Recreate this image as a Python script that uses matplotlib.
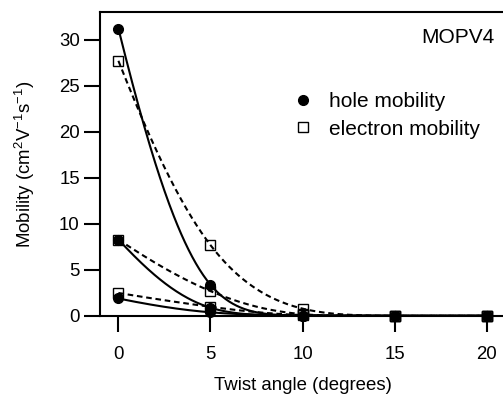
import numpy as np
import matplotlib
matplotlib.use('Agg')
import matplotlib.pyplot as plt
from matplotlib.lines import Line2D

plt.rcParams['font.family'] = ['Liberation Sans', 'DejaVu Sans']
plt.rcParams['mathtext.fontset'] = 'custom'
plt.rcParams['mathtext.rm'] = 'Liberation Sans'
plt.rcParams['mathtext.default'] = 'regular'

angle = [0, 5, 10, 15, 20]
hole_a = [31.2, 3.4, 0.05, 0.02, 0.02]
hole_b = [8.3, 0.9, 0.05, 0.02, 0.02]
hole_c = [1.9, 0.4, 0.05, 0.02, 0.02]
elec_a = [27.7, 7.7, 0.8, 0.02, 0.02]
elec_b = [8.3, 2.7, 0.2, 0.02, 0.02]
elec_c = [2.5, 1.0, 0.1, 0.02, 0.02]


def smooth_curve(xk, yk, xs, q=0.75):
    # natural cubic spline through the points, built on y**q so the tail stays >= 0
    xk = np.asarray(xk, float)
    yk = np.asarray(yk, float) ** q
    n = len(xk)
    h = np.diff(xk)
    A = np.zeros((n, n))
    r = np.zeros(n)
    A[0, 0] = A[-1, -1] = 1
    for i in range(1, n - 1):
        A[i, i - 1] = h[i - 1]
        A[i, i] = 2 * (h[i - 1] + h[i])
        A[i, i + 1] = h[i]
        r[i] = 6 * ((yk[i + 1] - yk[i]) / h[i] - (yk[i] - yk[i - 1]) / h[i - 1])
    M = np.linalg.solve(A, r)
    idx = np.clip(np.searchsorted(xk, xs) - 1, 0, n - 2)
    x0, x1 = xk[idx], xk[idx + 1]
    hh = x1 - x0
    a = x1 - xs
    b = xs - x0
    s = (M[idx] * a ** 3 + M[idx + 1] * b ** 3) / (6 * hh) \
        + (yk[idx] / hh - M[idx] * hh / 6) * a \
        + (yk[idx + 1] / hh - M[idx + 1] * hh / 6) * b
    return np.clip(s, 0, None) ** (1 / q)


W, H = 503, 395
fig = plt.figure(figsize=(W / 100, H / 100), dpi=100)
ax = fig.add_axes([100 / W, 79 / H, 405 / W, 304 / H])

xs = np.linspace(0, 20, 400)
dash = (0, (2.7, 1.8))
for ys in [hole_a, hole_b, hole_c]:
    ax.plot(xs, smooth_curve(angle, ys, xs), color='k', lw=1.5)
for ys in [elec_a, elec_b, elec_c]:
    ax.plot(xs, smooth_curve(angle, ys, xs), color='k', lw=1.5, ls=dash)
for ys in [hole_a, hole_b, hole_c]:
    ax.plot(angle, ys, 'o', color='k', ms=7, clip_on=False, zorder=4)
for ys in [elec_a, elec_b, elec_c]:
    ax.plot(angle, ys, 's', mfc='none', mec='k', ms=6.5, mew=1,
            clip_on=False, zorder=5)

ax.set_xlim(-1, 21)
ax.set_ylim(0, 33)
ax.set_xticks([0, 5, 10, 15, 20])
ax.set_yticks([0, 5, 10, 15, 20, 25, 30])
ax.spines['right'].set_visible(False)
for s in ['left', 'top', 'bottom']:
    ax.spines[s].set_linewidth(1.5)
ax.tick_params(direction='out', length=11.5, width=1.5, labelsize=13.4)
ax.tick_params(axis='x', pad=10)
ax.tick_params(axis='y', pad=3)

ax.set_xlabel('Twist angle (degrees)', fontsize=13.4, labelpad=10)
ax.set_ylabel('Mobility (cm$^2$V$^{-1}$s$^{-1}$)', fontsize=13.4, labelpad=16)

ax.text(0.975, 0.915, 'MOPV4', transform=ax.transAxes, ha='right', va='center',
        fontsize=15)

handles = [Line2D([], [], ls='none', marker='o', color='k', ms=7),
           Line2D([], [], ls='none', marker='s', mfc='none', mec='k', ms=6.5, mew=1)]
ax.legend(handles, ['hole mobility', 'electron mobility'], loc='upper left',
          bbox_to_anchor=(0.45, 0.77), frameon=False, fontsize=15,
          handlelength=1.0, handletextpad=0.75, labelspacing=0.4, borderpad=0)

fig.savefig('out.png', dpi=100)
